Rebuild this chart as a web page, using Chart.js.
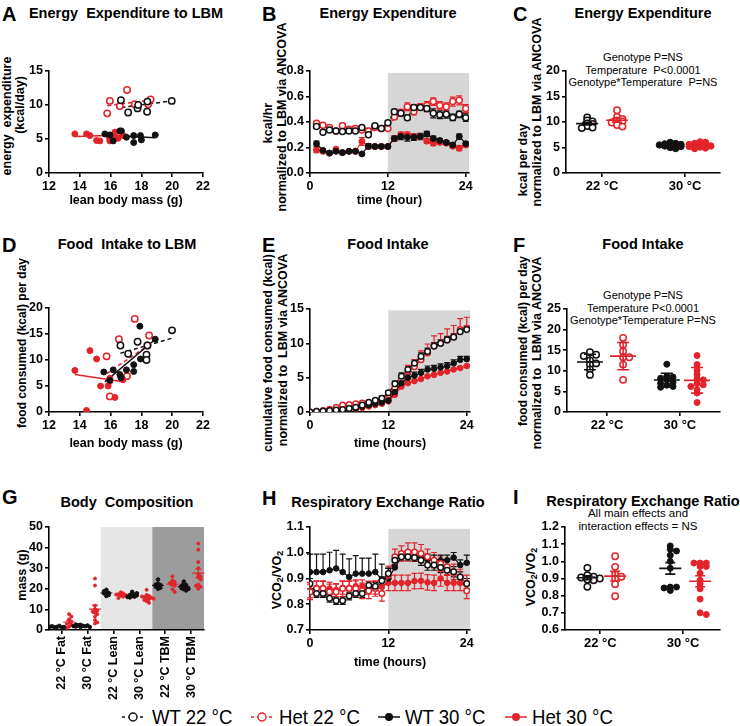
<!DOCTYPE html>
<html>
<head>
<meta charset="utf-8">
<script src="https://cdn.jsdelivr.net/npm/chart.js@4"></script>
<style>
  body { margin: 0; width: 740px; height: 726px; position: relative; overflow: hidden; background: #fff;
         font-family: "Liberation Sans", Arial, Helvetica, sans-serif; color: #000; }
  canvas { position: absolute; }
  .ttl { position: absolute; font-weight: bold; font-size: 14.5px; line-height: 1; transform: translateX(-50%); white-space: pre; }
  .let { position: absolute; font-weight: bold; font-size: 20px; line-height: 1; }
  .note { position: absolute; font-size: 11px; line-height: 12.5px; text-align: center; transform: translateX(-50%); white-space: pre; }
  .yt { position: absolute; font-weight: bold; font-size: 12.5px; line-height: 1; white-space: pre;
        transform: translate(-50%, -50%) rotate(-90deg); }
  .yt sub { font-size: 9px; vertical-align: -2px; }
  .lg { position: absolute; top: 707px; font-size: 20px; line-height: 20px; transform: scaleX(0.93); transform-origin: left center; white-space: pre; }
  .ls { position: absolute; top: 711px; }
</style>
</head>
<body>

<div class="let" style="left:2px;top:4px">A</div>
<div class="let" style="left:262px;top:4px">B</div>
<div class="let" style="left:513px;top:4px">C</div>
<div class="let" style="left:2px;top:235px">D</div>
<div class="let" style="left:262px;top:235px">E</div>
<div class="let" style="left:513px;top:235px">F</div>
<div class="let" style="left:2px;top:487px">G</div>
<div class="let" style="left:262px;top:488px">H</div>
<div class="let" style="left:513px;top:487px">I</div>

<div class="ttl" style="left:126px;top:6px">Energy  Expenditure to LBM</div>
<div class="ttl" style="left:388px;top:6px">Energy Expenditure</div>
<div class="ttl" style="left:643px;top:6px">Energy Expenditure</div>
<div class="ttl" style="left:127px;top:237px">Food  Intake to LBM</div>
<div class="ttl" style="left:388px;top:237px">Food Intake</div>
<div class="ttl" style="left:643px;top:237px">Food Intake</div>
<div class="ttl" style="left:127px;top:495px">Body  Composition</div>
<div class="ttl" style="left:388px;top:495px">Respiratory Exchange Ratio</div>
<div class="ttl" style="left:643px;top:494px">Respiratory Exchange Ratio</div>

<div class="yt" style="left:7px;top:116px">energy  expenditure</div>
<div class="yt" style="left:20px;top:105px">(kcal/day)</div>
<div class="yt" style="left:268px;top:123px">kcal/hr</div>
<div class="yt" style="left:282px;top:117px">normalized to LBM via ANCOVA</div>
<div class="yt" style="left:523px;top:160px">kcal per day</div>
<div class="yt" style="left:537px;top:112px">normalized to LBM via ANCOVA</div>
<div class="yt" style="left:22px;top:343px;font-size:12px">food consumed (kcal) per day</div>
<div class="yt" style="left:268px;top:353px">cumulative food consumed (kcal)</div>
<div class="yt" style="left:283px;top:350px">normalized to  LBM via ANCOVA</div>
<div class="yt" style="left:523px;top:341px;font-size:12px">food consumed (kcal) per day</div>
<div class="yt" style="left:537px;top:353px">normalized to  LBM via ANCOVA</div>
<div class="yt" style="left:22px;top:575px">mass (g)</div>
<div class="yt" style="left:278px;top:580px">VCO<sub>2</sub>/VO<sub>2</sub></div>
<div class="yt" style="left:532px;top:577px">VCO<sub>2</sub>/VO<sub>2</sub></div>

<div class="note" style="left:643px;top:51px">Genotype P=NS
Temperature  P&lt;0.0001
Genotype*Temperature  P=NS</div>
<div class="note" style="left:643px;top:289px">Genotype P=NS
Temperature P&lt;0.0001
Genotype*Temperature P=NS</div>
<div class="note" style="left:638px;top:507px;font-size:11.5px;line-height:13px">All main effects and
interaction effects = NS</div>

<svg class="ls" style="left:121px" width="24" height="12"><line x1="1" y1="6" x2="23" y2="6" stroke="#111" stroke-width="1.5" stroke-dasharray="3,3"/><circle cx="12" cy="6" r="4" fill="#fff" stroke="#111" stroke-width="1.5"/></svg>
<div class="lg" style="left:152px">WT 22 °C</div>
<svg class="ls" style="left:250px" width="24" height="12"><line x1="1" y1="6" x2="23" y2="6" stroke="#e3232a" stroke-width="1.5" stroke-dasharray="3,3"/><circle cx="12" cy="6" r="4" fill="#fff" stroke="#e3232a" stroke-width="1.5"/></svg>
<div class="lg" style="left:279px">Het 22 °C</div>
<svg class="ls" style="left:377px" width="24" height="12"><line x1="1" y1="6" x2="23" y2="6" stroke="#111" stroke-width="1.5"/><circle cx="12" cy="6" r="4" fill="#111"/></svg>
<div class="lg" style="left:405px">WT 30 °C</div>
<svg class="ls" style="left:504px" width="24" height="12"><line x1="1" y1="6" x2="23" y2="6" stroke="#e3232a" stroke-width="1.5"/><circle cx="12" cy="6" r="4" fill="#e3232a"/></svg>
<div class="lg" style="left:532px">Het 30 °C</div>

<script>
// ---- data ----
const tempLabels = ['22 °C', '30 °C'];

// A: energy expenditure vs lean body mass
const aWT22x = [16.67, 17.14, 17.75, 17.79, 18.37, 18.39, 19.97];
const aWT22y = [10.7, 8.9, 9.5, 10.0, 9.0, 10.5, 10.6];
const aHet22x = [15.78, 15.95, 16.6, 17.07, 17.57, 18.44, 18.6];
const aHet22y = [8.77, 10.6, 9.84, 12.2, 10.1, 10.1, 10.8];
const aWT30x = [15.63, 15.95, 16.17, 16.6, 16.7, 17.03, 17.5, 17.5, 17.94, 18.0, 18.9];
const aWT30y = [5.75, 5.6, 4.72, 6.19, 6.19, 5.26, 5.5, 4.48, 5.5, 4.87, 5.6];
const aHet30x = [13.68, 14.44, 14.66, 15.09, 15.3, 15.91, 15.95, 16.25, 16.28, 16.49, 16.82];
const aHet30y = [5.75, 5.75, 5.5, 4.77, 4.72, 5.26, 4.72, 5.26, 6.0, 5.1, 5.5];
// fitted lines [x0, y0, x1, y1]
const aFitWT22 = [16.7, 9.64, 19.97, 10.6];
const aFitHet22 = [15.78, 9.9, 18.59, 10.7];
const aFitWT30 = [15.56, 5.6, 18.89, 5.2];
const aFitHet30 = [13.68, 5.36, 16.86, 5.6];

// B: energy expenditure by hour (kcal/hr)
const hoursB = [1, 2, 3, 4, 5, 6, 7, 8, 9, 10, 11, 12, 13, 14, 15, 16, 17, 18, 19, 20, 21, 22, 23, 24];
const bWT22 = [0.364, 0.32, 0.338, 0.33, 0.325, 0.33, 0.33, 0.356, 0.30, 0.37, 0.35, 0.395, 0.48, 0.468, 0.434, 0.514, 0.514, 0.506, 0.468, 0.457, 0.46, 0.436, 0.46, 0.434];
const bHet22 = [0.39, 0.374, 0.356, 0.33, 0.37, 0.343, 0.35, 0.338, 0.33, 0.356, 0.35, 0.35, 0.44, 0.475, 0.52, 0.48, 0.52, 0.53, 0.56, 0.53, 0.52, 0.56, 0.57, 0.506];
const bWT30 = [0.23, 0.177, 0.156, 0.17, 0.16, 0.17, 0.17, 0.15, 0.21, 0.208, 0.208, 0.208, 0.27, 0.286, 0.28, 0.28, 0.286, 0.306, 0.27, 0.255, 0.24, 0.22, 0.286, 0.23];
const bHet30 = [0.18, 0.17, 0.156, 0.187, 0.16, 0.17, 0.17, 0.247, 0.208, 0.208, 0.208, 0.208, 0.27, 0.30, 0.30, 0.286, 0.286, 0.25, 0.234, 0.24, 0.234, 0.21, 0.195, 0.22];
const bWT22Err = [0.015, 0.01, 0.01, 0.01, 0.01, 0.01, 0.01, 0.015, 0.01, 0.015, 0.015, 0.015, 0.02, 0.02, 0.02, 0.02, 0.02, 0.025, 0.035, 0.03, 0.03, 0.025, 0.025, 0.03];
const bHet22Err = [0.015, 0.015, 0.01, 0.01, 0.02, 0.015, 0.015, 0.015, 0.02, 0.015, 0.015, 0.015, 0.02, 0.025, 0.03, 0.025, 0.025, 0.03, 0.03, 0.03, 0.03, 0.035, 0.035, 0.03];
const bWT30Err = [0.02, 0.01, 0.01, 0.01, 0.01, 0.01, 0.01, 0.01, 0.02, 0.015, 0.015, 0.015, 0.02, 0.025, 0.03, 0.025, 0.025, 0.02, 0.02, 0.015, 0.015, 0.015, 0.02, 0.015];
const bHet30Err = [0.02, 0.01, 0.01, 0.01, 0.01, 0.01, 0.01, 0.03, 0.015, 0.01, 0.01, 0.01, 0.02, 0.02, 0.02, 0.02, 0.02, 0.015, 0.02, 0.015, 0.015, 0.015, 0.02, 0.015];

// C: kcal per day normalized
const cWT22 = [10.9, 10.3, 10.1, 9.7, 9.6, 9.2, 8.9, 8.8];
const cHet22 = [12.3, 11.0, 10.6, 10.3, 10.1, 9.9, 9.4, 9.1];
const cWT30 = [6.0, 5.8, 5.7, 5.5, 5.4, 5.3, 5.2, 5.0, 4.8, 5.6, 5.5];
const cHet30 = [6.1, 6.0, 5.8, 5.6, 5.5, 5.4, 5.3, 5.1, 4.9, 4.8, 5.6, 5.2];

// D: food intake vs lean body mass
const dWT22x = [16.64, 17.14, 17.75, 18.39, 18.33, 18.33, 19.99];
const dWT22y = [12.8, 11.2, 13.5, 12.8, 11.0, 10.0, 15.7];
const dHet22x = [15.74, 16.54, 17.57, 18.5, 15.95, 17.07, 18.4];
const dHet22y = [10.7, 14.0, 17.9, 14.7, 3.0, 6.9, 12.8];
const dWT30x = [15.56, 16.17, 16.6, 16.67, 17.03, 17.5, 17.5, 17.9, 17.94, 18.9, 15.95];
const dWT30y = [7.7, 8.1, 7.2, 6.6, 8.1, 9.1, 7.8, 16.5, 10.2, 14.0, 6.1];
const dHet30x = [13.68, 14.66, 15.09, 15.35, 15.84, 15.95, 15.95, 16.28, 14.44, 16.7, 16.8];
const dHet30y = [8.0, 11.8, 10.2, 5.0, 5.0, 5.9, 6.5, 2.8, 0.3, 6.7, 6.2];
const dFitWT22 = [16.64, 11.3, 19.99, 14.2];
const dFitHet22 = [15.74, 7.4, 18.54, 13.0];
const dFitWT30 = [15.63, 5.8, 18.9, 14.0];
const dFitHet30 = [13.68, 7.2, 16.82, 5.8];

// E: cumulative food intake by hour
const hoursE = [0, 1, 2, 3, 4, 5, 6, 7, 8, 9, 10, 11, 12, 13, 14, 15, 16, 17, 18, 19, 20, 21, 22, 23, 24];
const eWT22 = [0, 0.1, 0.15, 0.2, 0.3, 0.35, 0.5, 0.7, 1.0, 1.4, 1.7, 2.0, 2.8, 4.1, 5.2, 6.2, 7.1, 8.1, 8.8, 9.6, 10.0, 10.5, 10.9, 11.7, 12.0];
const eHet22 = [0, 0.1, 0.2, 0.4, 0.7, 1.0, 1.1, 1.2, 1.3, 1.4, 1.5, 1.8, 2.5, 3.5, 4.7, 5.9, 6.6, 7.6, 8.6, 9.6, 10.0, 10.5, 11.0, 12.0, 12.2];
const eWT30 = [0, 0.05, 0.1, 0.15, 0.2, 0.3, 0.4, 0.5, 0.8, 1.0, 1.2, 1.4, 1.65, 2.9, 4.2, 5.0, 5.3, 5.7, 6.2, 6.3, 6.5, 6.7, 7.1, 7.6, 7.7];
const eHet30 = [0, 0.05, 0.1, 0.15, 0.2, 0.3, 0.35, 0.45, 0.6, 0.8, 1.0, 1.2, 1.55, 2.5, 3.7, 4.2, 4.5, 4.8, 5.2, 5.4, 5.7, 5.9, 6.2, 6.4, 6.7];
const eWT22Err = [0, 0, 0, 0, 0, 0.1, 0.1, 0.1, 0.15, 0.2, 0.25, 0.3, 0.3, 0.4, 0.5, 0.5, 0.5, 0.5, 0.5, 0.5, 0.5, 0.5, 0.5, 0.5, 0.5];
const eHet22Err = [0, 0, 0, 0, 0.1, 0.2, 0.2, 0.2, 0.2, 0.2, 0.2, 0.3, 0.3, 0.5, 0.7, 0.9, 1.0, 1.3, 1.3, 1.5, 1.4, 1.6, 1.6, 1.6, 1.6];
const eWT30Err = [0, 0, 0, 0, 0, 0, 0.05, 0.1, 0.1, 0.1, 0.1, 0.15, 0.2, 0.3, 0.5, 0.5, 0.5, 0.5, 0.5, 0.5, 0.5, 0.5, 0.5, 0.5, 0.4];
const eHet30Err = [0, 0, 0, 0, 0, 0, 0, 0.05, 0.05, 0.1, 0.1, 0.1, 0.15, 0.2, 0.25, 0.25, 0.25, 0.2, 0.2, 0.2, 0.2, 0.2, 0.2, 0.2, 0.2];

// F: food consumed per day normalized
const fWT22 = [14.5, 13.9, 13.6, 12.5, 11.8, 11.5, 10.3, 9.0];
const fHet22 = [18.0, 16.3, 14.7, 13.3, 13.3, 11.5, 7.8];
const fWT30 = [11.6, 8.7, 8.5, 8.2, 7.8, 7.2, 7.0, 6.5, 6.2, 6.0];
const fHet30 = [13.7, 11.5, 10.1, 9.1, 8.0, 7.8, 6.9, 6.6, 6.2, 5.4, 4.6, 2.3];

// G: body composition (g)
const gLabels = ['22 °C Fat', '30 °C Fat', '22 °C Lean', '30 °C Lean', '22 °C TBM', '30 °C TBM'];
const gWT = [
  [1.2, 1.5, 1.8, 2.0, 1.6, 1.3, 1.9, 1.4],
  [1.5, 2.0, 2.3, 1.8, 2.5, 1.7, 2.2, 1.9, 2.6, 1.4],
  [19.5, 18.5, 18.0, 17.8, 17.5, 17.0, 18.8, 16.5],
  [18.5, 17.5, 17.2, 17.0, 16.8, 16.5, 16.2, 15.8, 17.8, 16.0],
  [24.5, 22.5, 21.8, 21.3, 21.0, 20.5, 20.0, 22.0],
  [23.5, 22.5, 21.8, 21.2, 20.8, 20.3, 19.8, 19.2, 21.5, 20.0]
];
const gHet = [
  [7.7, 6.5, 5.2, 4.0, 3.5, 3.0, 2.4, 1.6, 1.1],
  [25.0, 21.6, 11.8, 10.2, 9.4, 8.4, 7.7, 6.5, 4.8, 3.7, 3.2, 9.0],
  [18.3, 17.8, 17.4, 17.0, 16.6, 16.2, 15.5, 17.2],
  [19.5, 17.0, 16.5, 16.0, 15.7, 15.4, 15.0, 14.6, 14.0, 13.2, 16.3, 15.2],
  [26.0, 24.0, 23.3, 22.8, 22.3, 21.5, 19.8, 18.5],
  [42.0, 39.0, 33.0, 30.0, 27.0, 26.0, 25.5, 24.5, 22.0, 21.0, 20.0, 21.5]
];

// H: respiratory exchange ratio by hour
const hoursH = [0, 1, 2, 3, 4, 5, 6, 7, 8, 9, 10, 11, 12, 13, 14, 15, 16, 17, 18, 19, 20, 21, 22, 23, 24];
const hWT22 = [0.88, 0.842, 0.842, 0.823, 0.814, 0.814, 0.832, 0.842, 0.842, 0.874, 0.87, 0.891, 0.919, 0.971, 0.984, 0.984, 0.981, 0.971, 0.952, 0.952, 0.943, 0.932, 0.926, 0.906, 0.88];
const hHet22 = [0.848, 0.861, 0.861, 0.848, 0.848, 0.861, 0.861, 0.861, 0.852, 0.852, 0.861, 0.842, 0.913, 0.984, 0.997, 1.003, 1.003, 0.997, 0.984, 0.971, 0.958, 0.945, 0.926, 0.906, 0.852];
const hWT30 = [0.925, 0.925, 0.925, 0.932, 0.939, 0.925, 0.906, 0.919, 0.919, 0.919, 0.925, 0.896, 0.9, 0.943, 0.984, 0.984, 0.984, 0.981, 0.975, 0.971, 0.971, 0.971, 0.981, 0.952, 0.961];
const hHet30 = [0.855, 0.864, 0.864, 0.861, 0.855, 0.864, 0.864, 0.87, 0.87, 0.864, 0.864, 0.868, 0.883, 0.883, 0.883, 0.883, 0.89, 0.891, 0.885, 0.883, 0.9, 0.883, 0.883, 0.883, 0.883];
const hWT22Err = [0.02, 0.015, 0.015, 0.015, 0.015, 0.015, 0.015, 0.015, 0.015, 0.015, 0.015, 0.015, 0.02, 0.02, 0.015, 0.015, 0.015, 0.02, 0.02, 0.02, 0.02, 0.02, 0.02, 0.02, 0.02];
const hHet22Err = [0.03, 0.03, 0.03, 0.03, 0.03, 0.03, 0.03, 0.03, 0.03, 0.03, 0.03, 0.03, 0.035, 0.03, 0.03, 0.035, 0.035, 0.035, 0.03, 0.03, 0.03, 0.03, 0.03, 0.03, 0.03];
const hWT30Err = [0.07, 0.07, 0.07, 0.07, 0.07, 0.07, 0.07, 0.07, 0.06, 0.06, 0.07, 0.06, 0.04, 0.03, 0.02, 0.02, 0.02, 0.02, 0.02, 0.02, 0.02, 0.02, 0.02, 0.02, 0.03];
const hHet30Err = [0.03, 0.025, 0.025, 0.025, 0.025, 0.025, 0.025, 0.025, 0.025, 0.025, 0.025, 0.025, 0.03, 0.03, 0.03, 0.03, 0.03, 0.03, 0.03, 0.03, 0.03, 0.03, 0.03, 0.03, 0.03];

// I: RER per group
const iWT22 = [0.962, 0.919, 0.91, 0.906, 0.90, 0.894, 0.89, 0.852];
const iHet22 = [1.03, 0.968, 0.923, 0.91, 0.90, 0.867, 0.797];
const iWT30 = [1.09, 1.07, 1.06, 1.035, 1.0, 0.96, 0.85, 0.85, 0.845, 0.83];
const iHet30 = [0.99, 0.99, 0.99, 0.97, 0.97, 0.93, 0.89, 0.84, 0.78, 0.70, 0.69, 0.87];

// ---- drawing ----
const FONT = '"Liberation Sans", Arial, Helvetica, sans-serif';
const BLACK = '#111';
const RED = '#e3232a';

const xy = (xs, ys) => xs.map((x, i) => ({ x, y: ys[i] }));
const fitLine = f => [{ x: f[0], y: f[1] }, { x: f[2], y: f[3] }];
const mean = a => a.reduce((s, v) => s + v, 0) / a.length;
const sd = a => { const m = mean(a); return Math.sqrt(a.reduce((s, v) => s + (v - m) ** 2, 0) / (a.length - 1)); };
const sem = a => sd(a) / Math.sqrt(a.length);

// spread points sideways when their values are close (dot plots)
function swarm(vals, center, dx, dy) {
  const placed = [];
  const slots = [0, 1, -1, 2, -2, 3, -3, 4, -4];
  return vals.map(v => {
    let x = center;
    for (const s of slots) {
      x = center + s * dx;
      if (!placed.some(p => Math.abs(p.x - x) < dx * 0.9 && Math.abs(p.y - v) < dy)) break;
    }
    placed.push({ x, y: v });
    return { x, y: v };
  });
}

function extrasPlugin(extra) {
  return {
    id: 'extras',
    beforeDraw(chart) {
      const { ctx, scales: { x, y } } = chart;
      (extra.shade || []).forEach(s => {
        const x0 = x.getPixelForValue(s.x0), x1 = x.getPixelForValue(s.x1);
        const y0 = y.getPixelForValue(s.y0), y1 = y.getPixelForValue(s.y1);
        ctx.save();
        ctx.fillStyle = s.color;
        ctx.fillRect(x0, y1, x1 - x0, y0 - y1);
        ctx.restore();
      });
    },
    beforeDatasetsDraw(chart) {
      const { ctx, scales: { x, y } } = chart;
      chart.data.datasets.forEach(ds => {
        if (!ds.err) return;
        ctx.save();
        ctx.strokeStyle = ds.borderColor;
        ctx.lineWidth = 1.2;
        ctx.beginPath();
        ds.data.forEach((p, j) => {
          const e = ds.err[j];
          if (!e) return;
          const px = x.getPixelForValue(p.x);
          const top = y.getPixelForValue(p.y + e);
          const bot = y.getPixelForValue(ds.errUp ? p.y : p.y - e);
          ctx.moveTo(px, top); ctx.lineTo(px, bot);
          ctx.moveTo(px - 3, top); ctx.lineTo(px + 3, top);
          if (!ds.errUp) { ctx.moveTo(px - 3, bot); ctx.lineTo(px + 3, bot); }
        });
        ctx.stroke();
        ctx.restore();
      });
    },
    afterDatasetsDraw(chart) {
      const { ctx, scales: { x, y } } = chart;
      (extra.summary || []).forEach(s => {
        const m = mean(s.vals);
        const e = s.kind === 'sd' ? sd(s.vals) : sem(s.vals);
        const px = x.getPixelForValue(s.x);
        const pm = y.getPixelForValue(m), pt = y.getPixelForValue(m + e), pb = y.getPixelForValue(m - e);
        ctx.save();
        ctx.strokeStyle = s.color;
        ctx.lineWidth = s.lw || 1.6;
        ctx.beginPath();
        ctx.moveTo(px - s.half, pm); ctx.lineTo(px + s.half, pm);
        ctx.moveTo(px, pt); ctx.lineTo(px, pb);
        ctx.moveTo(px - s.cap, pt); ctx.lineTo(px + s.cap, pt);
        ctx.moveTo(px - s.cap, pb); ctx.lineTo(px + s.cap, pb);
        ctx.stroke();
        ctx.restore();
      });
    }
  };
}

function axis(o, pos) {
  const font = { family: FONT, weight: 'bold', size: o.fontSize || 12.5 };
  return {
    type: 'linear', position: pos, min: o.min, max: o.max,
    border: { color: '#000', width: 1.6 },
    grid: { drawOnChartArea: false, color: '#000', lineWidth: 1.6, tickLength: 4 },
    ticks: {
      stepSize: o.step, color: '#000', padding: 2, autoSkip: false, font,
      maxRotation: o.rot || 0, minRotation: o.rot || 0,
      callback: o.fmt || (v => v)
    },
    afterBuildTicks: o.ticks ? (s => { s.ticks = o.ticks.map(v => ({ value: v })); }) : undefined,
    title: o.title ? {
      display: true, text: o.title, color: '#000',
      font: { family: FONT, weight: 'bold', size: 12.5, lineHeight: 1.05 },
      padding: { top: 0, bottom: o.tpad }
    } : { display: false },
    afterFit: s => { if (pos === 'left') s.width = o.size; else s.height = o.size; }
  };
}

function panel(box, area, xAx, yAx, datasets, extra) {
  const [left, top, w, h] = box;
  const [L, T, R, B] = area;
  const c = document.createElement('canvas');
  c.width = w; c.height = h;
  c.style.left = left + 'px'; c.style.top = top + 'px';
  document.body.appendChild(c);
  xAx.size = top + h - B;
  yAx.size = L - left;
  new Chart(c, {
    type: 'scatter',
    data: { datasets },
    options: {
      responsive: false, animation: false, events: [],
      layout: { padding: { left: 0, top: T - top, right: left + w - R, bottom: 0 } },
      scales: { x: axis(xAx, 'bottom'), y: axis(yAx, 'left') },
      plugins: { legend: { display: false }, tooltip: { enabled: false } }
    },
    plugins: [extrasPlugin(extra || {})]
  });
}

const openPt = (color, r) => ({ pointStyle: 'circle', pointRadius: r, pointBackgroundColor: '#fff', pointBorderColor: color, pointBorderWidth: 1.5, borderColor: color, backgroundColor: '#fff' });
const fillPt = (color, r) => ({ pointStyle: 'circle', pointRadius: r, pointBackgroundColor: color, pointBorderColor: color, pointBorderWidth: 1, borderColor: color, backgroundColor: color });
const line = (data, color, dash) => ({ data, showLine: true, pointRadius: 0, borderColor: color, borderWidth: 1.5, borderDash: dash ? [4, 3] : [] });
const series = (hours, vals, err, color, open, r, errUp) => Object.assign(
  { data: hours.map((h, i) => ({ x: h, y: vals[i] })), showLine: true, borderWidth: 1.2, borderDash: open ? [3, 2] : [], err, errUp },
  open ? openPt(color, r) : fillPt(color, r));

// A
panel([0, 0, 235, 220], [49, 71, 203, 173],
  { min: 12, max: 22, step: 2, title: 'lean body mass (g)', tpad: 12.5 },
  { min: 0, max: 15, step: 5 },
  [
    Object.assign({ data: xy(aWT30x, aWT30y) }, fillPt(BLACK, 3)),
    Object.assign({ data: xy(aHet30x, aHet30y) }, fillPt(RED, 3)),
    Object.assign({ data: xy(aWT22x, aWT22y) }, openPt(BLACK, 3.2)),
    Object.assign({ data: xy(aHet22x, aHet22y) }, openPt(RED, 3.2)),
    line(fitLine(aFitWT30), BLACK, false), line(fitLine(aFitHet30), RED, false),
    line(fitLine(aFitWT22), BLACK, true), line(fitLine(aFitHet22), RED, true)
  ]);

// B
panel([240, 0, 250, 220], [310, 71, 469, 173],
  { min: 0, max: 24.5, ticks: [0, 12, 24], title: 'time (hour)', tpad: 12.5 },
  { min: 0, max: 0.8, step: 0.2, fmt: v => v.toFixed(1) },
  [
    series(hoursB, bWT30, bWT30Err, BLACK, false, 3),
    series(hoursB, bHet30, bHet30Err, RED, false, 3),
    series(hoursB, bWT22, bWT22Err, BLACK, true, 3),
    series(hoursB, bHet22, bHet22Err, RED, true, 3)
  ],
  { shade: [{ x0: 12, x1: 24.5, y0: 0, y1: 0.785, color: '#d6d6d6' }] });

// C
panel([490, 0, 250, 220], [566, 71, 720, 173],
  { min: 0.13, max: 3.84, ticks: [1, 3], fmt: v => tempLabels[(v - 1) / 2], fontSize: 13 },
  { min: 0, max: 20, step: 5 },
  [
    Object.assign({ data: swarm(cWT22, 0.64, 0.13, 0.45) }, openPt(BLACK, 3.2)),
    Object.assign({ data: swarm(cHet22, 1.36, 0.13, 0.45) }, openPt(RED, 3.2)),
    Object.assign({ data: swarm(cWT30, 2.64, 0.13, 0.3) }, fillPt(BLACK, 3.2)),
    Object.assign({ data: swarm(cHet30, 3.36, 0.13, 0.3) }, fillPt(RED, 3.2))
  ],
  { summary: [
    { x: 0.64, vals: cWT22, color: BLACK, kind: 'sem', half: 11, cap: 5 },
    { x: 1.36, vals: cHet22, color: RED, kind: 'sem', half: 11, cap: 5 },
    { x: 2.64, vals: cWT30, color: BLACK, kind: 'sem', half: 11, cap: 5 },
    { x: 3.36, vals: cHet30, color: RED, kind: 'sem', half: 11, cap: 5 }
  ] });

// D
panel([0, 220, 235, 240], [49, 308, 203, 412],
  { min: 12, max: 22, step: 2, title: 'lean body mass (g)', tpad: 9.5 },
  { min: 0, max: 20, step: 5 },
  [
    Object.assign({ data: xy(dWT30x, dWT30y) }, fillPt(BLACK, 3)),
    Object.assign({ data: xy(dHet30x, dHet30y) }, fillPt(RED, 3)),
    Object.assign({ data: xy(dWT22x, dWT22y) }, openPt(BLACK, 3.2)),
    Object.assign({ data: xy(dHet22x, dHet22y) }, openPt(RED, 3.2)),
    line(fitLine(dFitWT30), BLACK, false), line(fitLine(dFitHet30), RED, false),
    line(fitLine(dFitWT22), BLACK, true), line(fitLine(dFitHet22), RED, true)
  ]);

// E
panel([240, 220, 250, 240], [310, 309, 470, 412],
  { min: 0, max: 24.5, ticks: [0, 12, 24], title: 'time (hours)', tpad: 9.5 },
  { min: 0, max: 15, step: 5 },
  [
    series(hoursE, eWT22, eWT22Err, BLACK, true, 2.8, true),
    series(hoursE, eWT30, eWT30Err, BLACK, false, 2.8, true),
    series(hoursE, eHet30, eHet30Err, RED, false, 2.8, true),
    series(hoursE, eHet22, eHet22Err, RED, true, 2.8, true)
  ],
  { shade: [{ x0: 12, x1: 24.5, y0: 0, y1: 14.8, color: '#d6d6d6' }] });

// F
panel([490, 220, 250, 240], [567, 309, 720, 412],
  { min: -0.1, max: 4.1, ticks: [1, 3], fmt: v => tempLabels[(v - 1) / 2], fontSize: 13 },
  { min: 0, max: 25, step: 5 },
  [
    Object.assign({ data: swarm(fWT22, 0.53, 0.17, 1.0) }, openPt(BLACK, 3.2)),
    Object.assign({ data: swarm(fHet22, 1.44, 0.17, 1.0) }, openPt(RED, 3.2)),
    Object.assign({ data: swarm(fWT30, 2.64, 0.17, 0.8) }, fillPt(BLACK, 3)),
    Object.assign({ data: swarm(fHet30, 3.47, 0.17, 0.8) }, fillPt(RED, 3))
  ],
  { summary: [
    { x: 0.53, vals: fWT22, color: BLACK, kind: 'sd', half: 13, cap: 6 },
    { x: 1.44, vals: fHet22, color: RED, kind: 'sd', half: 13, cap: 6 },
    { x: 2.64, vals: fWT30, color: BLACK, kind: 'sd', half: 13, cap: 6 },
    { x: 3.47, vals: fHet30, color: RED, kind: 'sd', half: 13, cap: 6 }
  ] });

// G
const gData = [], gSummary = [];
gLabels.forEach((lab, i) => {
  gData.push(...swarm(gWT[i], i + 0.22, 0.09, 0.9).map(p => ({ ...p, g: 'wt' })));
  gData.push(...swarm(gHet[i], i + 0.78, 0.09, 1.4).map(p => ({ ...p, g: 'het' })));
  gSummary.push({ x: i + 0.22, vals: gWT[i], color: BLACK, kind: 'sem', half: 6, cap: 3, lw: 1.2 });
  gSummary.push({ x: i + 0.78, vals: gHet[i], color: RED, kind: 'sem', half: 6, cap: 3, lw: 1.2 });
});
panel([0, 460, 235, 266], [49, 527, 204, 630],
  { min: 0, max: 6, ticks: [0.5, 1.5, 2.5, 3.5, 4.5, 5.5], fmt: v => gLabels[v - 0.5], rot: 90 },
  { min: 0, max: 50, step: 10 },
  [
    Object.assign({ data: gData.filter(p => p.g === 'wt') }, fillPt(BLACK, 1.8)),
    Object.assign({ data: gData.filter(p => p.g === 'het') }, fillPt(RED, 1.5))
  ],
  { shade: [
      { x0: 2, x1: 4, y0: 0, y1: 50, color: '#e6e6e6' },
      { x0: 4, x1: 6, y0: 0, y1: 50, color: '#9c9c9c' }
    ],
    summary: gSummary });

// H
panel([240, 460, 250, 266], [310, 527, 470, 630],
  { min: 0, max: 24.5, ticks: [0, 12, 24], title: 'time (hours)', tpad: 56.5 },
  { min: 0.7, max: 1.1, step: 0.1, fmt: v => v.toFixed(1) },
  [
    series(hoursH, hWT22, hWT22Err, BLACK, true, 2.8),
    series(hoursH, hHet22, hHet22Err, RED, true, 2.8),
    series(hoursH, hWT30, hWT30Err, BLACK, false, 2.8, true),
    series(hoursH, hHet30, hHet30Err, RED, false, 2.8)
  ],
  { shade: [{ x0: 12, x1: 24.5, y0: 0.7, y1: 1.093, color: '#d6d6d6' }] });

// I
panel([490, 460, 250, 266], [565, 527, 720, 630],
  { min: 0.15, max: 3.89, ticks: [1, 3], fmt: v => tempLabels[(v - 1) / 2], fontSize: 13 },
  { min: 0.6, max: 1.2, step: 0.1, fmt: v => v.toFixed(1) },
  [
    Object.assign({ data: swarm(iWT22, 0.69, 0.15, 0.02) }, openPt(BLACK, 3.2)),
    Object.assign({ data: swarm(iHet22, 1.36, 0.15, 0.02) }, openPt(RED, 3.2)),
    Object.assign({ data: swarm(iWT30, 2.69, 0.15, 0.02) }, fillPt(BLACK, 3)),
    Object.assign({ data: swarm(iHet30, 3.41, 0.15, 0.02) }, fillPt(RED, 3))
  ],
  { summary: [
    { x: 0.69, vals: iWT22, color: BLACK, kind: 'sem', half: 11, cap: 5 },
    { x: 1.36, vals: iHet22, color: RED, kind: 'sem', half: 11, cap: 5 },
    { x: 2.69, vals: iWT30, color: BLACK, kind: 'sem', half: 11, cap: 5 },
    { x: 3.41, vals: iHet30, color: RED, kind: 'sem', half: 11, cap: 5 }
  ] });
</script>
</body>
</html>
